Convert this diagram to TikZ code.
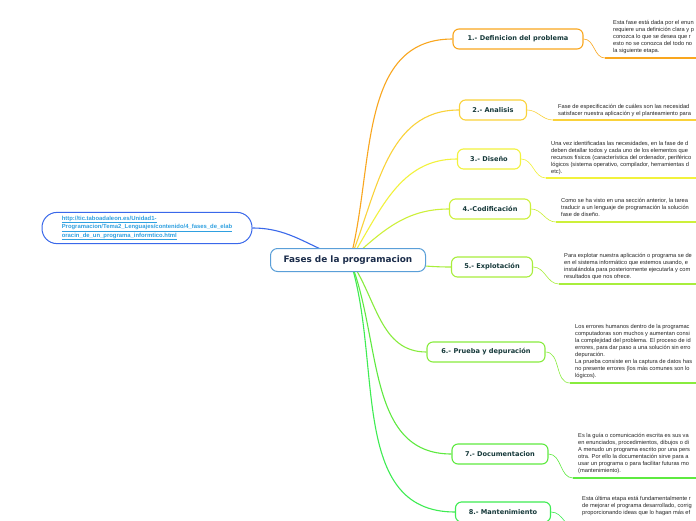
\documentclass[tikz,border=0pt]{standalone}
\usepackage{fontspec}
\setmainfont{Liberation Sans}
\newfontfamily\headfont{DejaVu Sans}
\usetikzlibrary{backgrounds}

\definecolor{cA}{HTML}{F9A61E}
\definecolor{cB}{HTML}{FAD23A}
\definecolor{cC}{HTML}{F2F23C}
\definecolor{cD}{HTML}{CDF03A}
\definecolor{cE}{HTML}{A8EE3C}
\definecolor{cF}{HTML}{88EC3E}
\definecolor{cG}{HTML}{5EEA40}
\definecolor{cH}{HTML}{3EEC52}
\definecolor{rootblue}{HTML}{5A9FD8}
\definecolor{linkblue}{HTML}{3A68EA}
\definecolor{linktxt}{HTML}{2FA0E0}
\definecolor{headtxt}{HTML}{1B2C4A}
\definecolor{topictxt}{HTML}{16393A}

\begin{document}
\begin{tikzpicture}[
  x=1pt, y=-1pt,
  root/.style={draw=rootblue, line width=1pt, fill=white, rounded corners=7pt,
               minimum width=155pt, minimum height=23pt, text=headtxt,
               font=\headfont\bfseries\fontsize{8.9}{10}\selectfont},
  link/.style={draw=linkblue, line width=1pt, fill=white, rounded corners=15pt,
               minimum width=210pt, minimum height=31pt, align=left, text=linktxt,
               font=\bfseries\fontsize{5.9}{7.4}\selectfont},
  topic/.style={draw, line width=1.1pt, fill=white, rounded corners=6pt,
                minimum height=20pt, inner sep=2pt, text=topictxt,
                font=\headfont\bfseries\fontsize{6.6}{8}\selectfont},
  note/.style={anchor=north west, inner sep=0pt, align=left, text=black!85,
               font=\fontsize{5.7}{7}\selectfont},
  br/.style={line width=1.1pt},
  tw/.style={line width=0.6pt},
  ul/.style={line width=1.8pt},
]
  \useasboundingbox (0,0) rectangle (696,520);

  % --- Central topic and source link ---
  \node[root] (root) at (348,260) {Fases de la programacion};
  \coordinate (hub) at (350,260);
  \node[link] (web) at (147,228)
    {\underline{http://tic.taboadaleon.es/Unidad1-}\\
     \underline{Programacion/Tema2\_Lenguajes/contenido/4\_fases\_de\_elab}\\
     \underline{oracin\_de\_un\_programa\_informtico.html}};

  % --- Phases ---
  \node[topic, draw=cA, minimum width=130pt] (t1) at (518,39)  {1.- Definicion del problema};
  \node[topic, draw=cB, minimum width=67pt]  (t2) at (493,110) {2.- Analisis};
  \node[topic, draw=cC, minimum width=63pt]  (t3) at (489,159) {3.- Diseño};
  \node[topic, draw=cD, minimum width=81pt]  (t4) at (490,209) {4.-Codificación};
  \node[topic, draw=cE, minimum width=81pt]  (t5) at (492,267) {5.- Explotación};
  \node[topic, draw=cF, minimum width=118pt] (t6) at (486,352) {6.- Prueba y depuración};
  \node[topic, draw=cG, minimum width=96pt]  (t7) at (500,454) {7.- Documentacion};
  \node[topic, draw=cH, minimum width=95pt]  (t8) at (503,512) {8.- Mantenimiento};

  % --- Notes ---
  \node[note] (n1) at (613,20) {Esta fase está dada por el enun\\
    requiere una definición clara y p\\ conozca lo que se desea que r\\
    esto no se conozca del todo no\\ la siguiente etapa.};
  \node[note] (n2) at (558,104) {Fase de especificación de cuáles son las necesidad\\
    satisfacer nuestra aplicación y el planteamiento para};
  \node[note] (n3) at (551,141) {Una vez identificadas las necesidades, en la fase de d\\
    deben detallar todos y cada uno de los elementos que\\
    recursos físicos (característica del ordenador, periférico\\
    lógicos (sistema operativo, compilador, herramientas d\\ etc).};
  \node[note] (n4) at (561,198) {Como se ha visto en una sección anterior, la tarea\\
    traducir a un lenguaje de programación la solución\\ fase de diseño.};
  \node[note] (n5) at (564,253) {Para explotar nuestra aplicación o programa se de\\
    en el sistema informático que estemos usando, e\\
    instalándola para posteriormente ejecutarla y com\\ resultados que nos ofrece.};
  \node[note] (n6) at (575,324) {Los errores humanos dentro de la programac\\
    computadoras son muchos y aumentan consi\\
    la complejidad del problema. El proceso de id\\
    errores, para dar paso a una solución sin erro\\ depuración.\\
    La prueba consiste en la captura de datos has\\
    no presente errores (los más comunes son lo\\ lógicos).};
  \node[note] (n7) at (578,433) {Es la guía o comunicación escrita es sus va\\
    en enunciados, procedimientos, dibujos o di\\
    A menudo un programa escrito por una pers\\
    otra. Por ello la documentación sirve para a\\
    usar un programa o para facilitar futuras mo\\ (mantenimiento).};
  \node[note] (n8) at (582,496) {Esta última etapa está fundamentalmente r\\
    de mejorar el programa desarrollado, corrig\\
    proporcionando ideas que lo hagan más ef};

  % --- Underline anchors ---
  \coordinate (u1) at (605,58);
  \coordinate (u2) at (553,120);
  \coordinate (u3) at (546,178);
  \coordinate (u4) at (556,222);
  \coordinate (u5) at (559,284);
  \coordinate (u6) at (570,383);
  \coordinate (u7) at (573,478);
  \coordinate (u8) at (578,530);

  \begin{scope}[on background layer]
    \fill[white] (0,0) rectangle (696,520);
    % branches from the centre
    \draw[br, linkblue] (hub) to[out=165, in=0] (web.east);
    \foreach \t/\c/\a in {t1/cA/75, t2/cB/68, t3/cC/58, t4/cD/42,
                          t5/cE/0, t6/cF/-55, t7/cG/-68, t8/cH/-72}
      \draw[br, \c] (hub) to[out=\a, in=180] (\t.west);
    % notes
    \foreach \t/\u/\c in {t1/u1/cA, t2/u2/cB, t3/u3/cC, t4/u4/cD,
                          t5/u5/cE, t6/u6/cF, t7/u7/cG, t8/u8/cH}
    {
      \draw[tw, \c] (\t.east) to[out=0, in=180] (\u);
      \draw[ul, \c] (\u) -- ++(150,0);
    }
  \end{scope}
\end{tikzpicture}
\end{document}
